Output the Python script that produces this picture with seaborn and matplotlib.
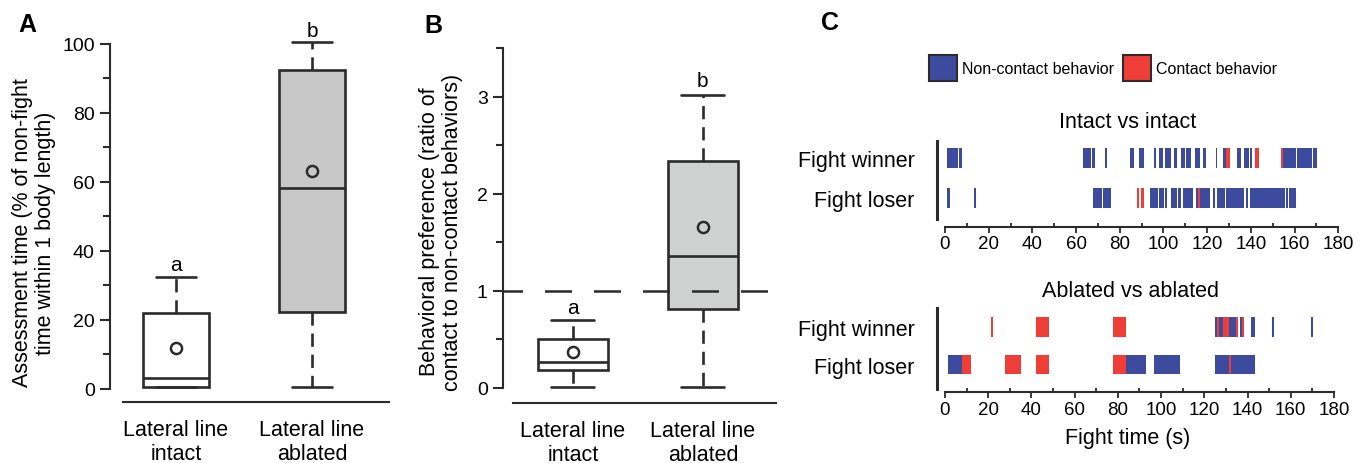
import numpy as np
import pandas as pd
import seaborn as sns
import matplotlib.pyplot as plt
from matplotlib.patches import Patch
from matplotlib.ticker import MultipleLocator

# ---- data ----
groups = ['Lateral line\nintact', 'Lateral line\nablated']

# box summaries: min, q1, median, q3, max
assess_intact = [0.5, 0.5, 3.2, 21.9, 32.6]
assess_ablated = [0.5, 22.3, 58.3, 92.4, 100.5]
assess_means = [11.8, 63.3]

pref_intact = [0.01, 0.19, 0.265, 0.505, 0.70]
pref_ablated = [0.01, 0.81, 1.36, 2.34, 3.02]
pref_means = [0.37, 1.655]

sig_letters = ['a', 'b']
assess_sig_y = [36.2, 103.8]
pref_sig_y = [0.83, 3.17]

# fight rasters: (start s, end s, kind)  N = non-contact, C = contact
intact_winner = [(0.9, 5.8, 'N'), (6.4, 7.8, 'N'), (63.2, 66.8, 'N'), (67.3, 68.6, 'N'),
                 (73.2, 74.1, 'N'), (84.7, 86.5, 'N'), (88.8, 91.1, 'N'), (95.7, 96.6, 'N'),
                 (98.0, 100.0, 'N'), (100.7, 103.5, 'N'), (104.9, 106.2, 'N'), (108.1, 110.0, 'N'),
                 (110.5, 112.6, 'N'), (114.4, 116.7, 'N'), (118.1, 119.5, 'N'), (124.1, 124.6, 'N'),
                 (127.3, 128.7, 'N'), (128.7, 130.5, 'C'), (133.6, 135.5, 'N'), (136.9, 139.1, 'N'),
                 (139.6, 140.5, 'N'), (141.9, 143.7, 'C'), (153.8, 154.7, 'C'), (154.7, 160.6, 'N'),
                 (161.1, 168.0, 'N'), (168.4, 170.3, 'N')]
intact_loser = [(0.9, 2.3, 'N'), (13.3, 14.2, 'N'), (67.7, 71.8, 'N'), (72.3, 75.9, 'N'),
                (87.9, 88.8, 'C'), (89.7, 91.1, 'C'), (93.8, 97.5, 'N'), (98.0, 100.4, 'N'),
                (100.7, 101.6, 'N'), (103.5, 106.2, 'N'), (106.6, 108.0, 'N'), (108.9, 113.5, 'N'),
                (114.9, 115.8, 'N'), (115.8, 116.7, 'C'), (116.7, 121.3, 'N'), (122.7, 123.6, 'N'),
                (124.6, 128.3, 'N'), (128.7, 136.9, 'N'), (137.8, 138.7, 'N'), (139.6, 155.6, 'N'),
                (156.1, 157.0, 'N'), (157.4, 160.6, 'N')]
ablated_winner = [(21.3, 22.2, 'C'), (42.1, 48.1, 'C'), (77.7, 83.8, 'C'), (124.9, 125.9, 'N'),
                  (125.9, 126.8, 'C'), (126.8, 128.6, 'N'), (128.6, 131.4, 'C'), (131.4, 134.6, 'N'),
                  (134.6, 135.5, 'C'), (136.5, 137.4, 'N'), (137.4, 138.4, 'C'), (141.6, 143.5, 'N'),
                  (151.3, 152.2, 'N'), (169.4, 170.3, 'N')]
ablated_loser = [(1.4, 7.9, 'N'), (7.9, 12.0, 'C'), (27.8, 35.2, 'C'), (42.1, 48.1, 'C'),
                 (77.7, 83.8, 'C'), (83.8, 93.0, 'N'), (96.7, 108.7, 'N'), (124.9, 131.4, 'N'),
                 (131.4, 132.3, 'C'), (132.3, 143.5, 'N')]

row_labels = ['Fight winner', 'Fight loser']
kind_names = {'N': 'Non-contact behavior', 'C': 'Contact behavior'}
kind_colors = {'N': '#3d4b9e', 'C': '#ef3d37'}

INK = '#2b2b2b'

sns.set_style('ticks')
plt.rcParams['font.family'] = ['Liberation Sans', 'DejaVu Sans']
plt.rcParams['text.color'] = 'black'
plt.rcParams['xtick.labelcolor'] = 'black'
plt.rcParams['ytick.labelcolor'] = 'black'

W, H = 1369, 464
fig = plt.figure(figsize=(W / 100, H / 100), dpi=100)


def px_axes(left, top, right, bottom):
    return fig.add_axes([left / W, 1 - bottom / H, (right - left) / W, (bottom - top) / H])


def box_panel(ax, vals_a, vals_b, means, fills, width, capw):
    df = pd.DataFrame({'group': [groups[0]] * len(vals_a) + [groups[1]] * len(vals_b),
                       'value': vals_a + vals_b})
    sns.boxplot(data=df, x='group', y='value', hue='group', palette=fills, legend=False,
                saturation=1, width=width, whis=np.inf, linewidth=1.9, linecolor=INK,
                whiskerprops={'linestyle': (0, (5, 3))}, capwidths=capw, ax=ax)
    ax.plot(range(len(groups)), means, 'o', ms=8, mfc='none', mec=INK, mew=1.8, zorder=5)
    sns.despine(ax=ax)
    ax.set_xlabel('')
    ax.set_ylabel('')
    for s in ['left', 'bottom']:
        ax.spines[s].set_color(INK)
        ax.spines[s].set_linewidth(1.5)
    ax.tick_params(axis='y', which='major', length=7, width=1.5, color=INK, labelsize=14, pad=4)
    ax.tick_params(axis='y', which='minor', length=5, width=1.5, color=INK)
    ax.tick_params(axis='x', length=0, labelsize=15.5, pad=12)


# ---- panel A ----
axA = px_axes(110, 39.8, 390, 393.45)
box_panel(axA, assess_intact, assess_ablated, assess_means, ['white', '#c8c8c9'], 0.485, 0.3)
axA.set_xlim(-0.485, 1.574)
axA.set_ylim(-1, 101.5)
axA.set_yticks([0, 20, 40, 60, 80, 100])
axA.yaxis.set_minor_locator(MultipleLocator(10))
axA.spines['left'].set_bounds(0, 100)
axA.spines['bottom'].set_position(('outward', 6.9))
axA.spines['bottom'].set_bounds(-0.39, 1.57)
for i, t in enumerate(sig_letters):
    axA.text(i, assess_sig_y[i], t, ha='center', va='center', fontsize=15, clip_on=False)
fig.text(34 / W, 1 - 233 / H, 'Assessment time (% of non-fight\ntime within 1 body length)',
         rotation=90, ha='center', va='center', fontsize=15.5, linespacing=1.1)
fig.text(27 / W, 1 - 25 / H, 'A', ha='center', va='center', fontsize=18, fontweight='bold')

# ---- panel B ----
axB = px_axes(503, 49.2, 777, 391.9)
box_panel(axB, pref_intact, pref_ablated, pref_means, ['white', '#d0d1d1'], 0.54, 0.33)
axB.set_xlim(-0.538, 1.57)
axB.set_ylim(-0.03, 3.5)
axB.set_yticks([0, 1, 2, 3])
axB.yaxis.set_minor_locator(MultipleLocator(0.5))
axB.spines['left'].set_bounds(0, 3.5)
axB.spines['bottom'].set_position(('outward', 8.7))
axB.spines['bottom'].set_bounds(-0.46, 1.56)
axB.axhline(1, xmin=0, xmax=0.967, color=INK, lw=1.8, ls=(3, (10.8, 8.8)), zorder=6)
for i, t in enumerate(sig_letters):
    axB.text(i, pref_sig_y[i], t, ha='center', va='center', fontsize=15, clip_on=False)
fig.text(441 / W, 1 - 232 / H, 'Behavioral preference (ratio of\ncontact to non-contact behaviors)',
         rotation=90, ha='center', va='center', fontsize=15.5, linespacing=1.1)
fig.text(433 / W, 1 - 26 / H, 'B', ha='center', va='center', fontsize=18, fontweight='bold')

# ---- panel C ----
def raster(ax, rows, xlim, ylim, bar_h, offset):
    for kind in ['N', 'C']:
        for r, segs in enumerate(rows):
            seg = [s for s in segs if s[2] == kind]
            if not seg:
                continue
            starts = np.array([s[0] for s in seg])
            ends = np.array([s[1] for s in seg])
            ax.barh([r] * len(seg), ends - starts, left=starts, height=bar_h,
                    color=kind_colors[kind], linewidth=0)
    ax.set_xlim(*xlim)
    ax.set_ylim(*ylim)
    sns.despine(ax=ax)
    ax.set_yticks(range(len(row_labels)))
    ax.set_yticklabels(row_labels)
    ax.tick_params(axis='y', length=0, labelsize=15.5, pad=16)
    ax.spines['left'].set_color(INK)
    ax.spines['left'].set_linewidth(2.2)
    ax.spines['bottom'].set_color(INK)
    ax.spines['bottom'].set_linewidth(1.5)
    ax.spines['bottom'].set_position(('outward', offset))
    ax.spines['bottom'].set_bounds(0, 180)
    ax.set_xticks(range(0, 181, 20))
    ax.xaxis.set_minor_locator(MultipleLocator(10))
    ax.tick_params(axis='x', which='major', length=4, width=1.3, color=INK, labelsize=13.5, pad=2)
    ax.tick_params(axis='x', which='minor', length=3, width=1.3, color=INK, direction='in')


axC1 = px_axes(937, 142, 1340, 220)
raster(axC1, [intact_winner, intact_loser], (-3.66, 180.8), (1.525, -0.425), 0.5, 5.8)
axC2 = px_axes(937, 309, 1337, 390)
raster(axC2, [ablated_winner, ablated_loser], (-3.7, 181.4), (1.653, -0.507), 0.53, 2.4)

fig.text(1128 / W, 1 - 122 / H, 'Intact vs intact', ha='center', va='center', fontsize=15.5)
fig.text(1130 / W, 1 - 292 / H, 'Ablated vs ablated', ha='center', va='center', fontsize=15.5)
fig.text(1128 / W, 1 - 439 / H, 'Fight time (s)', ha='center', va='center', fontsize=15.5)
fig.text(830 / W, 1 - 23 / H, 'C', ha='center', va='center', fontsize=18, fontweight='bold')

handles = [Patch(facecolor=kind_colors[k], edgecolor=INK, linewidth=1.5, label=kind_names[k])
           for k in ['N', 'C']]
fig.legend(handles=handles, loc='center left', bbox_to_anchor=(929 / W, 1 - 69 / H), ncol=2,
           frameon=False, fontsize=11.5, handlelength=1.75, handleheight=2.1,
           handletextpad=0.3, columnspacing=0.6, borderpad=0, borderaxespad=0)

fig.savefig('out.png', dpi=100)
